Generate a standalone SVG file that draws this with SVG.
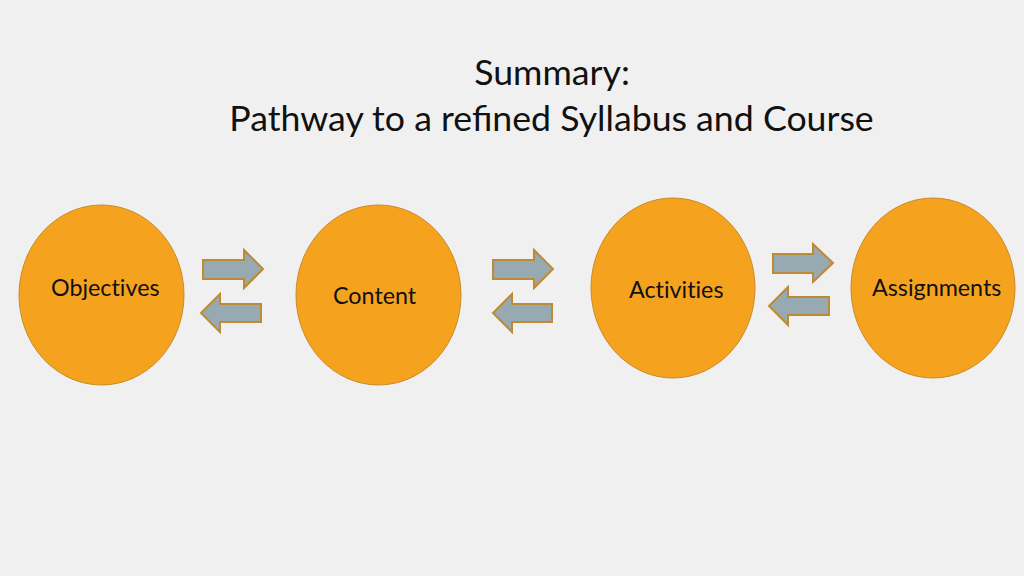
<svg xmlns="http://www.w3.org/2000/svg" width="1024" height="576" viewBox="0 0 1024 576">
<style>
.bg{fill:#F0F0F0}
.node{fill:#F5A31F;stroke:#C98A26;stroke-width:1}
.lbl{font-family:Lato,"Liberation Sans",sans-serif;font-size:23.3px;fill:#111;font-variant-ligatures:none}
.title{font-family:Lato,"Liberation Sans",sans-serif;font-size:35.7px;fill:#111;text-anchor:middle}
.arr{fill:#97AAB1;stroke:#BF8A34;stroke-width:2;stroke-linejoin:miter}
</style>
<rect class="bg" x="0" y="0" width="1024" height="576"/>
<g id="title">
<text class="title" x="552" y="85">Summary:</text>
<text class="title" x="551.5" y="131">Pathway to a refined Syllabus and Course</text>
</g>
<g id="objectives">
<ellipse class="node" cx="101.5" cy="295" rx="82.5" ry="90"/>
<text class="lbl" x="51" y="296">Objectives</text>
</g>
<g id="content">
<ellipse class="node" cx="378.5" cy="295" rx="82.5" ry="90"/>
<text class="lbl" x="333" y="304">Content</text>
</g>
<g id="activities">
<ellipse class="node" cx="673" cy="288" rx="82" ry="90"/>
<text class="lbl" x="629" y="298">Activities</text>
</g>
<g id="assignments">
<ellipse class="node" cx="933" cy="288" rx="82" ry="90"/>
<text class="lbl" x="872" y="296">Assignments</text>
</g>
<g id="connectors">
<path class="arr" d="M203,260 H244 V250 L263,269 L244,288 V279 H203 Z"/>
<path class="arr" d="M261,304 H220 V294 L201,313 L220,332 V322 H261 Z"/>
<path class="arr" d="M493,260 H534 V250 L553,269 L534,288 V279 H493 Z"/>
<path class="arr" d="M552,304 H512 V294 L493,313 L512,332 V322 H552 Z"/>
<path class="arr" d="M773,254 H813 V244 L833,263 L813,282 V273 H773 Z"/>
<path class="arr" d="M829,297 H788 V287 L769,306 L788,325 V315 H829 Z"/>
</g>
</svg>
